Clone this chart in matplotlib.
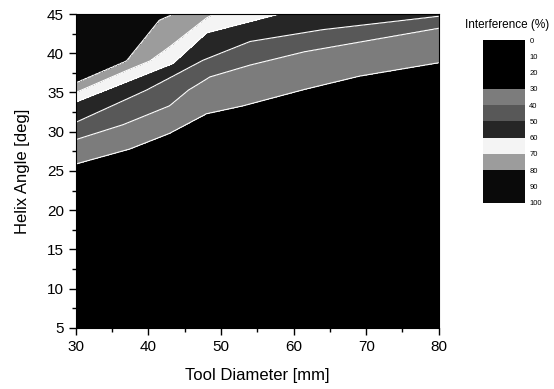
import numpy as np
import matplotlib
matplotlib.use("Agg")
import matplotlib.pyplot as plt
from matplotlib.colors import ListedColormap, BoundaryNorm

plt.rcParams['font.family'] = ['Liberation Sans', 'DejaVu Sans']

# contour boundaries: (tool diameter, helix angle)
lev30_d = [30, 37.4, 42.9, 48, 53, 61.5, 69.1, 80]
lev30_a = [25.9, 27.8, 29.8, 32.3, 33.3, 35.4, 37.1, 38.8]
lev40_d = [30, 36.5, 42.9, 45.5, 48.5, 54, 61.5, 80]
lev40_a = [29.0, 30.9, 33.3, 35.3, 37.0, 38.5, 40.2, 43.2]
lev50_d = [30, 39.7, 47.5, 54, 64, 80]
lev50_a = [31.2, 35.3, 39.1, 41.5, 43.0, 44.7]
lev60_d = [30, 43.4, 48, 58, 80]
lev60_a = [33.8, 38.7, 42.6, 45.0, 48.0]
lev70_d = [30, 37, 40.2, 42.9, 48, 50, 80]
lev70_a = [35.0, 37.8, 39.0, 40.8, 44.5, 45.5, 50.0]
lev80_d = [30, 37, 41.5, 44, 80]
lev80_a = [36.2, 39.0, 44.2, 45.2, 52.0]

levels = [0, 10, 20, 30, 40, 50, 60, 70, 80, 90, 100]
band_colors = ['#000000', '#000000', '#000000', '#7c7c7c', '#585858',
               '#262626', '#f4f4f4', '#9c9c9c', '#0a0a0a', '#0a0a0a']

d = np.linspace(30, 80, 301)
a = np.linspace(5, 45, 401)
D, A = np.meshgrid(d, a)
Z = np.zeros_like(D)
for j, dv in enumerate(d):
    knots = [5,
             np.interp(dv, lev30_d, lev30_a),
             np.interp(dv, lev40_d, lev40_a),
             np.interp(dv, lev50_d, lev50_a),
             np.interp(dv, lev60_d, lev60_a),
             np.interp(dv, lev70_d, lev70_a),
             np.interp(dv, lev80_d, lev80_a),
             60]
    Z[:, j] = np.interp(a, knots, [0, 30, 40, 50, 60, 70, 80, 100])

cmap = ListedColormap(band_colors)
norm = BoundaryNorm(levels, cmap.N)

fig = plt.figure(figsize=(5.54, 3.89), dpi=100)
ax = fig.add_axes([0.137, 0.157, 0.655, 0.807])
cs = ax.contourf(D, A, Z, levels=levels, cmap=cmap, norm=norm)
ax.contour(D, A, Z, levels=[30, 40, 50, 60, 70, 80], colors='white', linewidths=0.8)

ax.set_xlim(30, 80)
ax.set_ylim(5, 45)
ax.set_xticks([30, 40, 50, 60, 70, 80])
ax.set_xticks(np.arange(30, 81, 5), minor=True)
ax.set_yticks(np.arange(5, 46, 5))
ax.set_yticks(np.arange(5, 45.1, 2.5), minor=True)
ax.tick_params(direction='out', length=5, width=1, labelsize=11)
ax.tick_params(which='minor', direction='out', length=3, width=1)
ax.set_xlabel('Tool Diameter [mm]', fontsize=12, labelpad=10)
ax.set_ylabel('Helix Angle [deg]', fontsize=12, labelpad=12)

cax = fig.add_axes([0.872, 0.479, 0.076, 0.418])
cb = fig.colorbar(cs, cax=cax, ticks=levels)
cb.outline.set_visible(False)
cax.invert_yaxis()
cax.tick_params(length=0, labelsize=5.5, pad=3)
fig.text(0.915, 0.936, 'Interference (%)', fontsize=8.5, ha='center', va='center')

fig.savefig('out.png', dpi=100)
